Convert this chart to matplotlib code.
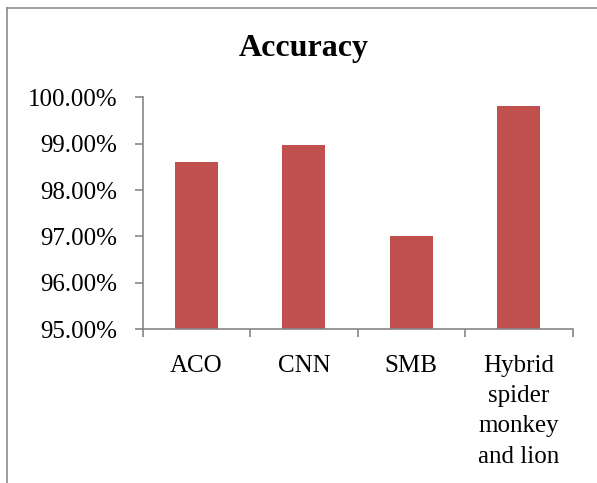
import matplotlib.pyplot as plt
from matplotlib.lines import Line2D
from matplotlib.ticker import FuncFormatter

# chart data
methods = ['ACO', 'CNN', 'SMB', 'Hybrid\nspider\nmonkey\nand lion']
accuracy = [98.6, 98.97, 97.0, 99.8]

plt.rcParams['font.family'] = 'Liberation Serif'

fig = plt.figure(figsize=(5.97, 4.83), dpi=100)
ax = fig.add_axes([0.239, 0.318, 0.72, 0.481])

ax.bar(range(len(methods)), accuracy, width=0.4, color='#C0504D', bottom=0)
ax.set_ylim(95, 100)
ax.set_xlim(-0.5, len(methods) - 0.5)
ax.set_yticks([95, 96, 97, 98, 99, 100])
ax.yaxis.set_major_formatter(FuncFormatter(lambda v, p: '%.2f%%' % v))

# category ticks sit between bars, labels centred under bars
ax.set_xticks([i - 0.5 for i in range(len(methods) + 1)])
ax.set_xticklabels([])
ax.set_xticks(range(len(methods)), minor=True)
ax.set_xticklabels(methods, minor=True, fontsize=18, linespacing=1.48, va='top')
ax.tick_params(axis='x', which='minor', length=0, pad=18.5)
ax.tick_params(axis='x', which='major', length=5.5, width=1.2, color='#868686', direction='out')
ax.tick_params(axis='y', length=5.5, width=1.2, color='#868686', direction='out',
               labelsize=18, pad=13)

for side in ['top', 'right']:
    ax.spines[side].set_visible(False)
for side in ['left', 'bottom']:
    ax.spines[side].set_color('#868686')
    ax.spines[side].set_linewidth(1.2)

fig.text(0.508, 0.884, 'Accuracy', ha='center', va='baseline', fontsize=23, fontweight='bold')

# outer chart border (only top and left visible in the crop)
fig.add_artist(Line2D([0.011, 0.011], [0.0, 0.983], color='#8c8c8c', lw=1.2))
fig.add_artist(Line2D([0.011, 1.0], [0.983, 0.983], color='#8c8c8c', lw=1.2))

fig.savefig('out.png', dpi=100)
